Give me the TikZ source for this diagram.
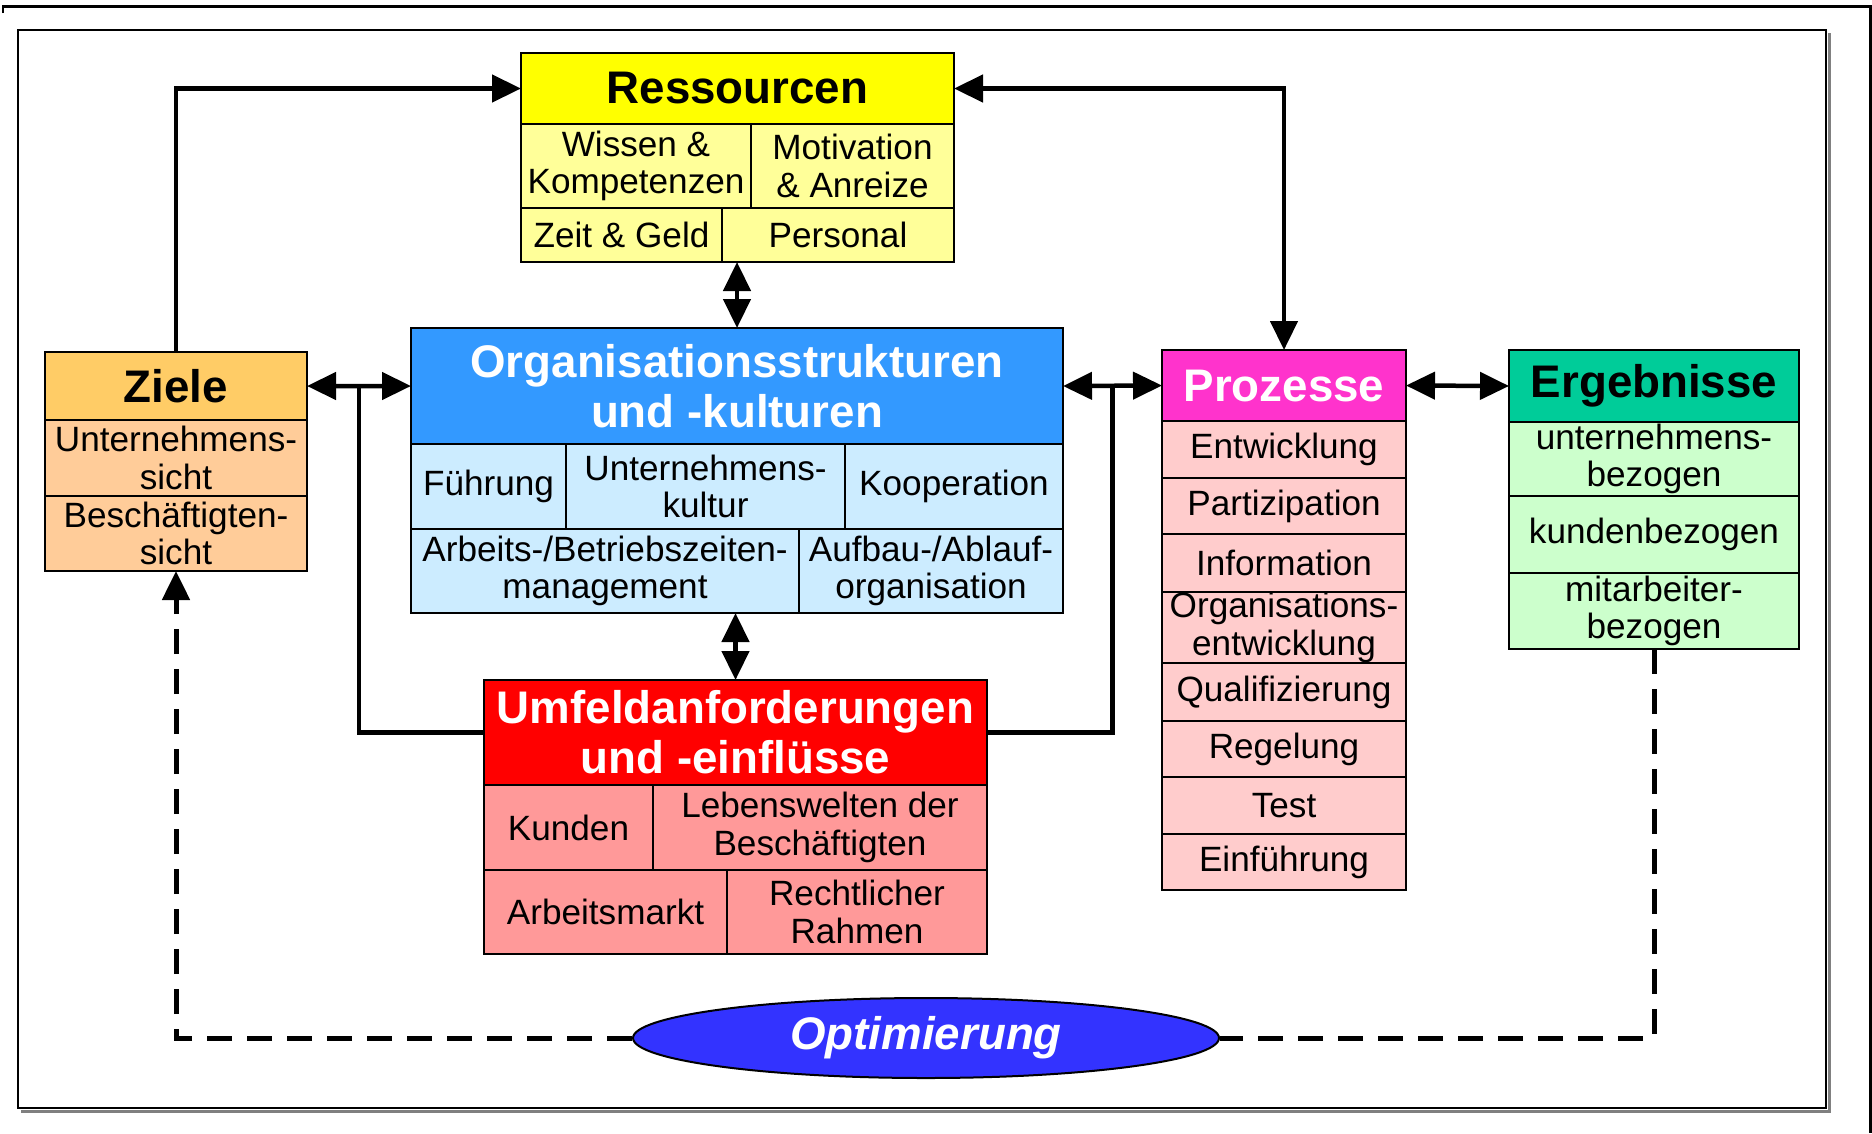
\documentclass[tikz,border=0pt]{standalone}
\usepackage{fontspec}
\setmainfont{Liberation Sans}
\usetikzlibrary{arrows.meta,positioning,shapes.geometric,calc}

\definecolor{resgelb}{HTML}{FFFF00}
\definecolor{reshell}{HTML}{FFFF99}
\definecolor{zielorange}{HTML}{FFCC66}
\definecolor{zielhell}{HTML}{FFCC99}
\definecolor{orgblau}{HTML}{3399FF}
\definecolor{orghell}{HTML}{CCECFF}
\definecolor{umfrot}{HTML}{FF0000}
\definecolor{umfhell}{HTML}{FF9999}
\definecolor{prozpink}{HTML}{FF33CC}
\definecolor{prozhell}{HTML}{FFCCCC}
\definecolor{erggruen}{HTML}{00CC99}
\definecolor{erghell}{HTML}{CCFFCC}
\definecolor{optblau}{HTML}{3333FF}

\begin{document}
\begin{tikzpicture}[x=0.1mm, y=-0.1mm, >={Triangle[length=2.9mm,width=2.7mm]}]
\tikzset{
  kopf/.style = {rectangle, draw, line width=0.2mm, outer sep=0pt, inner sep=0pt, align=center, font=\fontsize{13}{14.3}\selectfont\bfseries, anchor=north west},
  feld/.style = {rectangle, draw, line width=0.2mm, outer sep=0pt, inner sep=0pt, align=center, font=\fontsize{10}{10.6}\selectfont},
  pfeil/.style = {line width=0.45mm},
  rueck/.style = {line width=0.5mm, dash pattern=on 2.5mm off 1.5mm}
}

% Frames
\useasboundingbox (0,0) rectangle (1872,1133);
\draw[line width=0.3mm] (3,13) |- (1870,6) -- (1870,1133);
\draw[gray, line width=0.3mm] (21,1111) -| (1829,33);
\draw[line width=0.25mm] (18,30) rectangle (1826,1108);

% Ressourcen
\node[kopf, fill=resgelb, minimum width=43.3mm, minimum height=7.1mm] (res) at (521,53) {Ressourcen};
\node[feld, fill=reshell, minimum width=23mm, minimum height=8.4mm, below right=0pt of res.south west] (wissen) {Wissen \&\\Kompetenzen};
\node[feld, fill=reshell, minimum width=20.3mm, minimum height=8.4mm, right=0pt of wissen] (motiv) {Motivation\\\& Anreize};
\node[feld, fill=reshell, minimum width=20.1mm, minimum height=5.4mm, below right=0pt of wissen.south west] (zeit) {Zeit \& Geld};
\node[feld, fill=reshell, minimum width=23.2mm, minimum height=5.4mm, right=0pt of zeit] (personal) {Personal};

% Ziele
\node[kopf, fill=zielorange, minimum width=26.2mm, minimum height=6.8mm] (ziele) at (45,352) {Ziele};
\node[feld, fill=zielhell, minimum width=26.2mm, minimum height=7.6mm, below=0pt of ziele] (unternsicht) {Unternehmens-\\sicht};
\node[feld, fill=zielhell, minimum width=26.2mm, minimum height=7.5mm, below=0pt of unternsicht] (beschsicht) {Beschäftigten-\\sicht};

% Organisation
\node[kopf, fill=orgblau, text=white, minimum width=65.2mm, minimum height=11.6mm] (org) at (411,328) {Organisationsstrukturen\\und -kulturen};
\node[feld, fill=orghell, minimum width=15.5mm, minimum height=8.5mm, below right=0pt of org.south west] (fuehrung) {Führung};
\node[feld, fill=orghell, minimum width=27.9mm, minimum height=8.5mm, right=0pt of fuehrung] (kultur) {Unternehmens-\\kultur};
\node[feld, fill=orghell, minimum width=21.8mm, minimum height=8.5mm, right=0pt of kultur] (koop) {Kooperation};
\node[feld, fill=orghell, minimum width=38.8mm, minimum height=8.4mm, below right=0pt of fuehrung.south west] (zeitmgmt) {Arbeits-/Betriebszeiten-\\management};
\node[feld, fill=orghell, minimum width=26.4mm, minimum height=8.4mm, right=0pt of zeitmgmt] (ablauf) {Aufbau-/Ablauf-\\organisation};

% Umfeld
\node[kopf, fill=umfrot, text=white, minimum width=50.3mm, minimum height=10.5mm] (umfeld) at (484,680) {Umfeldanforderungen\\und -einflüsse};
\node[feld, fill=umfhell, minimum width=16.9mm, minimum height=8.5mm, below right=0pt of umfeld.south west] (kunden) {Kunden};
\node[feld, fill=umfhell, minimum width=33.4mm, minimum height=8.5mm, right=0pt of kunden] (lebenswelt) {Lebenswelten der\\Beschäftigten};
\node[feld, fill=umfhell, minimum width=24.3mm, minimum height=8.4mm, below right=0pt of kunden.south west] (arbmarkt) {Arbeitsmarkt};
\node[feld, fill=umfhell, minimum width=26mm, minimum height=8.4mm, right=0pt of arbmarkt] (recht) {Rechtlicher\\Rahmen};

% Prozesse
\node[kopf, fill=prozpink, text=white, minimum width=24.4mm, minimum height=7.1mm] (proz) at (1162,350) {Prozesse};
\node[feld, fill=prozhell, minimum width=24.4mm, minimum height=5.7mm, below=0pt of proz] (entw) {Entwicklung};
\node[feld, fill=prozhell, minimum width=24.4mm, minimum height=5.6mm, below=0pt of entw] (partiz) {Partizipation};
\node[feld, fill=prozhell, minimum width=24.4mm, minimum height=5.8mm, below=0pt of partiz] (info) {Information};
\node[feld, fill=prozhell, minimum width=24.4mm, minimum height=7.1mm, below=0pt of info] (orgentw) {Organisations-\\entwicklung};
\node[feld, fill=prozhell, minimum width=24.4mm, minimum height=5.8mm, below=0pt of orgentw] (quali) {Qualifizierung};
\node[feld, fill=prozhell, minimum width=24.4mm, minimum height=5.6mm, below=0pt of quali] (regel) {Regelung};
\node[feld, fill=prozhell, minimum width=24.4mm, minimum height=5.7mm, below=0pt of regel] (test) {Test};
\node[feld, fill=prozhell, minimum width=24.4mm, minimum height=5.6mm, below=0pt of test] (einf) {Einführung};

% Ergebnisse
\node[kopf, fill=erggruen, minimum width=29mm, minimum height=7.2mm] (erg) at (1509,350) {Ergebnisse};
\node[feld, fill=erghell, minimum width=29mm, minimum height=7.4mm, below=0pt of erg] (unternbez) {unternehmens-\\bezogen};
\node[feld, fill=erghell, minimum width=29mm, minimum height=7.7mm, below=0pt of unternbez] (kundbez) {kundenbezogen};
\node[feld, fill=erghell, minimum width=29mm, minimum height=7.6mm, below=0pt of kundbez] (mitarb) {mitarbeiter-\\bezogen};

% Optimierung
\node[ellipse, draw, line width=0.2mm, fill=optblau, text=white, minimum width=58.6mm, minimum height=8mm, inner sep=0pt, font=\fontsize{13}{14}\selectfont\bfseries\itshape] (opt) at (926,1038) {Optimierung};

% Connectors
\coordinate (knotenL) at ($(ziele.east)!0.5!(org.west)$);
\coordinate (knotenR) at ($(org.east)!0.5!(proz.west)$);
\draw[pfeil, ->] (ziele.north) |- (res.west);
\draw[pfeil, <->] (res.east) -| (proz.north);
\draw[pfeil, <->] (org.north |- personal.south) -- (org.north);
\draw[pfeil, <->] (ziele.east) -- (org.west);
\draw[pfeil, <->] (org.east) -- (proz.west);
\draw[pfeil, <->] (proz.east) -- (erg.west);
\draw[pfeil, <->] (zeitmgmt.south -| umfeld.north) -- (umfeld.north);
\draw[pfeil] (knotenL) |- (umfeld.west);
\draw[pfeil] (knotenR) |- (umfeld.east);

% Optimierungsschleife
\draw[rueck] (mitarb.south) |- (opt.east);
\draw[rueck, ->] (opt.west) -| (beschsicht.south);

\end{tikzpicture}
\end{document}
